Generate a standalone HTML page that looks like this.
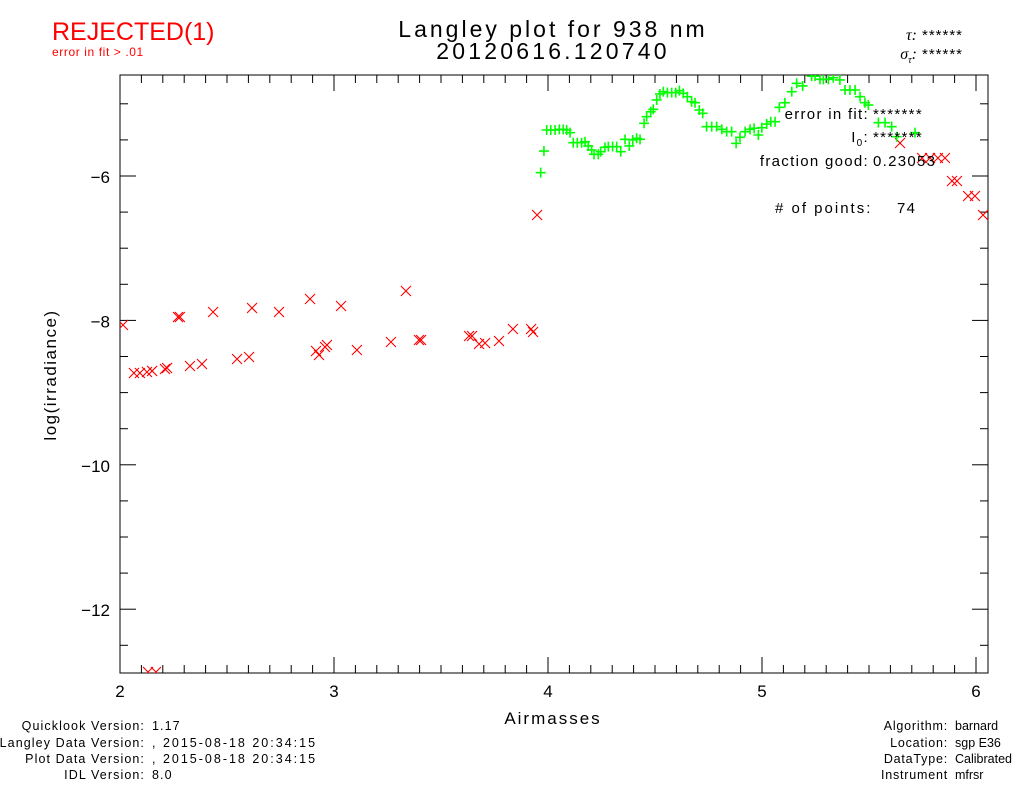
<!DOCTYPE html>
<html><head><meta charset="utf-8"><style>
html,body{margin:0;padding:0;background:#fff;}
svg{display:block;font-family:"Liberation Sans",sans-serif;}
</style></head><body>
<svg id="chart" width="1024" height="786" viewBox="0 0 1024 786">
<text x="52" y="40" font-size="25" fill="#ff0000">REJECTED(1)</text>
<text x="52" y="56" font-size="12" fill="#ff0000" letter-spacing="0.6">error in fit &gt; .01</text>
<text x="553" y="37" font-size="23" letter-spacing="3" text-anchor="middle">Langley plot for 938 nm</text>
<text x="553" y="59" font-size="23" letter-spacing="3.2" text-anchor="middle">20120616.120740</text>
<text x="917" y="40" font-size="16" text-anchor="end" font-family="Liberation Serif" font-style="italic">τ:</text>
<text x="922" y="40" font-size="15" letter-spacing="1">******</text>
<text x="917" y="59" font-size="16" text-anchor="end" font-family="Liberation Serif" font-style="italic">σ<tspan font-size="10" dy="4">τ</tspan><tspan dy="-4">:</tspan></text>
<text x="922" y="59" font-size="15" letter-spacing="1">******</text>
<g id="axes"></g>
<g id="marks"></g>
<g font-size="15" letter-spacing="1.3">
<text x="869" y="119" text-anchor="end">error in fit:</text>
<text x="873" y="119">*******</text>
<text x="869" y="142" text-anchor="end">I<tspan font-size="10" dy="4">0</tspan><tspan dy="-4">:</tspan></text>
<text x="873" y="142">*******</text>
<text x="869" y="166" text-anchor="end">fraction good:</text>
<text x="873" y="166">0.23053</text>
<text x="775" y="213" letter-spacing="2"># of points:</text>
<text x="897" y="213">74</text>
</g>
<text x="553" y="724" font-size="17" letter-spacing="2" text-anchor="middle">Airmasses</text>
<text transform="translate(56,375) rotate(-90)" font-size="17" letter-spacing="1.5" text-anchor="middle">log(irradiance)</text>
<g font-size="12.5" letter-spacing="1.1">
<text x="145" y="730" text-anchor="end">Quicklook Version:</text><text x="152" y="730">1.17</text>
<text x="145" y="747" text-anchor="end">Langley Data Version:</text><text x="152" y="747" letter-spacing="2">, 2015-08-18 20:34:15</text>
<text x="145" y="763" text-anchor="end">Plot Data Version:</text><text x="152" y="763" letter-spacing="2">, 2015-08-18 20:34:15</text>
<text x="145" y="779" text-anchor="end">IDL Version:</text><text x="152" y="779">8.0</text>
</g>
<g font-size="12.5">
<text x="948" y="730" text-anchor="end" letter-spacing="0.8">Algorithm:</text><text x="955" y="730">barnard</text>
<text x="948" y="747" text-anchor="end" letter-spacing="0.8">Location:</text><text x="955" y="747">sgp E36</text>
<text x="948" y="763" text-anchor="end" letter-spacing="0.8">DataType:</text><text x="955" y="763">Calibrated</text>
<text x="948" y="779" text-anchor="end" letter-spacing="0.8">Instrument</text><text x="955" y="779">mfrsr</text>
</g>
</svg>
<script>
const xTicks=[2,3,4,5,6];
const yTicks=[-6,-8,-10,-12];
const goodX=[3.966,3.981,3.994,4.013,4.033,4.053,4.071,4.087,4.103,4.118,4.137,4.157,4.173,4.188,4.204,4.215,4.235,4.246,4.266,4.282,4.302,4.321,4.340,4.360,4.380,4.396,4.414,4.430,4.449,4.461,4.480,4.492,4.508,4.523,4.539,4.558,4.578,4.597,4.614,4.632,4.651,4.671,4.687,4.707,4.723,4.741,4.765,4.788,4.812,4.835,4.858,4.879,4.897,4.921,4.944,4.963,4.983,4.999,5.022,5.041,5.061,5.081,5.107,5.139,5.162,5.190,5.232,5.248,5.271,5.287,5.310,5.333,5.364,5.388,5.411,5.435,5.458,5.481,5.497,5.544,5.575,5.606,5.629,5.715];
const goodY=[-5.954,-5.654,-5.363,-5.363,-5.363,-5.354,-5.354,-5.363,-5.40,-5.539,-5.539,-5.539,-5.525,-5.584,-5.640,-5.70,-5.70,-5.663,-5.603,-5.594,-5.594,-5.594,-5.663,-5.492,-5.584,-5.501,-5.478,-5.492,-5.27,-5.178,-5.109,-5.076,-4.947,-4.864,-4.832,-4.846,-4.846,-4.846,-4.818,-4.855,-4.902,-4.971,-4.985,-5.086,-5.132,-5.317,-5.317,-5.317,-5.354,-5.386,-5.386,-5.548,-5.464,-5.386,-5.354,-5.34,-5.432,-5.331,-5.28,-5.248,-5.248,-5.049,-4.985,-4.832,-4.716,-4.753,-4.617,-4.617,-4.661,-4.661,-4.661,-4.639,-4.67,-4.809,-4.809,-4.809,-4.902,-4.985,-5.017,-5.261,-5.261,-5.317,-5.456,-5.40];
const rejX=[2.014,2.065,2.093,2.126,2.150,2.210,2.220,2.271,2.280,2.327,2.383,2.435,2.547,2.603,2.617,2.743,2.888,2.916,2.930,2.958,2.967,3.033,3.107,3.266,3.336,3.397,3.407,3.631,3.645,3.678,3.706,3.771,3.836,3.921,3.930,3.949,5.645,5.748,5.785,5.822,5.855,5.888,5.911,5.963,5.995,6.033,2.131,2.168];
const rejY=[-8.064,-8.729,-8.729,-8.715,-8.70,-8.673,-8.659,-7.953,-7.953,-8.632,-8.604,-7.884,-8.535,-8.507,-7.828,-7.884,-7.704,-8.424,-8.479,-8.368,-8.341,-7.80,-8.41,-8.299,-7.593,-8.271,-8.271,-8.216,-8.216,-8.327,-8.313,-8.285,-8.119,-8.119,-8.161,-6.54,-5.543,-5.751,-5.751,-5.751,-5.751,-6.069,-6.069,-6.277,-6.277,-6.54,-12.87,-12.87];

const L=120,R=988,T=75,B=673;
const X0=2,XS=214,Y0=-6,YS=72.2,YP=176;
function sx(v){return L+(v-X0)*XS;}
function sy(v){return YP-(v-Y0)*YS;}
const NS='http://www.w3.org/2000/svg';
function mk(tag,attrs,parent){const e=document.createElementNS(NS,tag);for(const k in attrs)e.setAttribute(k,attrs[k]);parent.appendChild(e);return e;}
const axes=document.getElementById('axes');
const frame=mk('rect',{x:L,y:T,width:R-L,height:B-T,fill:'none',stroke:'#000','stroke-width':1},axes);


for(let i=0;i<=41;i++){
  const v=2+i*0.1; const x=sx(v); if(x>R)break;
  const major=(i%10===0); const len=major?16:8;
  mk('line',{x1:x,y1:B,x2:x,y2:B-len,stroke:'#000'},axes);
  mk('line',{x1:x,y1:T,x2:x,y2:T+len,stroke:'#000'},axes);
}
xTicks.forEach(v=>{
  const t=mk('text',{x:sx(v),y:B+24,'font-size':17,'text-anchor':'middle'},axes);
  t.textContent=String(v);
  
  
});
for(let v=-4.5;v>=-12.9;v-=0.5){
  const y=sy(v); if(y<T||y>B)continue;
  const major=Math.abs(v-Math.round(v))<1e-6&&Math.round(v)%2===0; const len=major?16:8;
  mk('line',{x1:L,y1:y,x2:L+len,y2:y,stroke:'#000'},axes);
  mk('line',{x1:R,y1:y,x2:R-len,y2:y,stroke:'#000'},axes);
}
yTicks.forEach(v=>{
  const t=mk('text',{x:L-10,y:sy(v)+7,'font-size':17,'text-anchor':'end'},axes);
  t.textContent=String(v).replace('-','\u2212');
  
  
});
const marks=document.getElementById('marks');
const cp=mk('clipPath',{id:'clip'},marks);
mk('rect',{x:L,y:T,width:R-L,height:B-T},cp);
const g=mk('g',{'clip-path':'url(#clip)'},marks);
rejX.forEach((v,i)=>{
  const x=sx(v),y=sy(rejY[i]);
  const p=mk('path',{d:`M${x-5} ${y-5}L${x+5} ${y+5}M${x-5} ${y+5}L${x+5} ${y-5}`,stroke:'#ff0000','stroke-width':1.1,fill:'none'},g);
  
  
});
goodX.forEach((v,i)=>{
  const x=sx(v),y=sy(goodY[i]);
  const p=mk('path',{d:`M${x-5} ${y}L${x+5} ${y}M${x} ${y-5}L${x} ${y+5}`,stroke:'#00ff00','stroke-width':1.6,fill:'none'},g);
  
  
});
</script>
</body></html>
